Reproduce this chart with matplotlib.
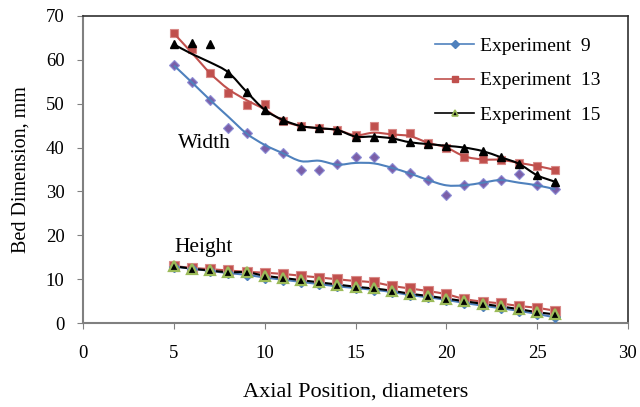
import matplotlib
matplotlib.use("Agg")
import matplotlib.pyplot as plt
from matplotlib.path import Path
from matplotlib.patches import PathPatch
from matplotlib.lines import Line2D

plt.rcParams['font.family'] = ['Liberation Serif', 'DejaVu Serif']

pos = [5, 6, 7, 8, 9, 10, 11, 12, 13, 14, 15, 16, 17, 18, 19, 20, 21, 22, 23, 24, 25, 26]

# width, measured points
w9_pts = [58.7, 55.0, 50.8, 44.5, 43.3, 39.9, 38.8, 34.9, 35.0, 36.2, 37.9, 37.9,
          35.4, 34.1, 32.6, 29.2, 31.4, 32.0, 32.6, 33.9, 31.4, 30.5]
w13_pts = [66.0, 62.5, 56.9, 52.4, 49.6, 49.9, 46.1, 44.9, 44.4, 44.0, 42.9, 44.8,
           43.4, 43.4, 41.1, 40.0, 37.9, 37.5, 37.2, 36.5, 35.8, 34.9]
w15_pts = [63.5, 63.8, 63.5, 57.1, 52.7, 48.6, 46.3, 44.9, 44.4, 44.0, 42.5, 42.5,
           42.1, 41.2, 40.8, 40.4, 40.0, 39.2, 37.8, 36.3, 33.7, 32.2]

# width, smoothed trend
w9_fit = [58.7, 54.8, 50.8, 47.0, 43.2, 40.6, 38.7, 36.9, 37.0, 36.1, 36.5, 36.4,
          35.4, 34.1, 32.6, 31.4, 31.4, 32.0, 32.6, 32.0, 31.4, 30.5]
w13_fit = [66.0, 61.5, 56.9, 53.3, 50.8, 48.7, 46.1, 44.9, 44.4, 44.0, 42.8, 43.4,
           43.0, 42.6, 41.1, 40.0, 38.0, 37.3, 37.2, 36.5, 35.8, 34.9]
w15_fit = [63.5, 61.3, 59.4, 57.1, 52.7, 48.6, 46.3, 44.9, 44.4, 44.0, 42.5, 42.5,
           42.1, 41.2, 40.8, 40.4, 40.0, 39.2, 37.8, 36.3, 33.7, 32.2]

# height
h9 = [12.9, 12.4, 11.9, 11.4, 11.0, 10.4, 9.9, 9.4, 8.9, 8.4, 8.0, 7.6,
      7.1, 6.4, 5.9, 5.3, 4.6, 4.0, 3.4, 2.8, 2.1, 1.3]
h13 = [13.0, 12.6, 12.3, 12.0, 11.7, 11.5, 11.2, 10.8, 10.4, 10.0, 9.6, 9.3,
       8.5, 7.9, 7.3, 6.6, 5.5, 4.9, 4.5, 3.9, 3.5, 2.8]
h15 = [13.0, 12.4, 12.0, 11.6, 11.6, 10.8, 10.3, 9.8, 9.3, 8.8, 8.3, 7.9,
       7.4, 6.7, 6.2, 5.6, 5.0, 4.4, 3.8, 3.2, 2.5, 2.0]

BLUE = '#4F81BD'
RED = '#C0504D'
GREEN = '#9BBB59'
PURPLE = '#7A5FA8'


def smooth(ax, xs, ys, color, lw=1.5, z=3):
    # bezier through the points, like excel's smoothed line
    verts = [(xs[0], ys[0])]
    codes = [Path.MOVETO]
    n = len(xs)
    for i in range(n - 1):
        x0, y0 = (xs[i - 1], ys[i - 1]) if i > 0 else (xs[i], ys[i])
        x1, y1 = xs[i], ys[i]
        x2, y2 = xs[i + 1], ys[i + 1]
        x3, y3 = (xs[i + 2], ys[i + 2]) if i + 2 < n else (x2, y2)
        verts += [(x1 + (x2 - x0) / 6, y1 + (y2 - y0) / 6),
                  (x2 - (x3 - x1) / 6, y2 - (y3 - y1) / 6),
                  (x2, y2)]
        codes += [Path.CURVE4] * 3
    ax.add_patch(PathPatch(Path(verts, codes), fill=False, edgecolor=color,
                           lw=lw, zorder=z))


fig, ax = plt.subplots(figsize=(6.4, 4.07), dpi=100)
fig.subplots_adjust(left=0.13, right=0.981, top=0.961, bottom=0.206)

# width points
ax.plot(pos, w9_pts, 'D', ms=5, mfc=PURPLE, mec='#8E8ED6', mew=0.8, ls='none', zorder=2)
ax.plot(pos, w13_pts, 's', ms=5.5, mfc=RED, mec='#D98A88', mew=0.8, ls='none', zorder=2)
ax.plot(pos, w15_pts, '^', ms=5.5, color='black', ls='none', zorder=4)

smooth(ax, pos, w9_fit, BLUE)
smooth(ax, pos, w13_fit, RED)
smooth(ax, pos, w15_fit, 'black')

# height
smooth(ax, pos, h13, RED)
smooth(ax, pos, h9, BLUE)
smooth(ax, pos, h15, 'black')
ax.plot(pos, h13, 's', ms=6.5, mfc=RED, mec='#D98A88', mew=0.8, ls='none', zorder=3)
ax.plot(pos, h9, 'D', ms=5, mfc=BLUE, mec=BLUE, ls='none', zorder=3)
ax.plot(pos, h15, '^', ms=6.5, mfc='black', mec=GREEN, mew=1.6, ls='none', zorder=4)

ax.text(6.66, 41, 'Width', fontsize=15.5, ha='center', va='center')
ax.text(6.66, 17.3, 'Height', fontsize=15.5, ha='center', va='center')

handles = [
    Line2D([], [], color=BLUE, lw=1.2, marker='D', ms=4, mfc=BLUE, mec=BLUE),
    Line2D([], [], color=RED, lw=1.2, marker='s', ms=5, mfc=RED, mec=RED),
    Line2D([], [], color='black', lw=1.2, marker='^', ms=5, mfc='black', mec=GREEN, mew=1.2),
]
ax.legend(handles, ['Experiment  9', 'Experiment  13', 'Experiment  15'],
          loc='upper left', bbox_to_anchor=(0.625, 0.967), frameon=False,
          fontsize=14, handlelength=2.0, handletextpad=0.3,
          labelspacing=0.85, borderaxespad=0.2)

ax.set_xlim(0, 30)
ax.set_ylim(0, 70)
ax.set_xticks(range(0, 31, 5))
ax.set_yticks(range(0, 71, 10))
ax.tick_params(labelsize=13.5, direction='out', length=4, color='#808080')
ax.tick_params(axis='x', pad=11.5)
ax.tick_params(axis='y', pad=9.5)
ax.set_xlabel('Axial Position, diameters', fontsize=16, labelpad=15)
ax.set_ylabel('Bed Dimension, mm', fontsize=14.5, labelpad=11)

for s in ['left', 'bottom']:
    ax.spines[s].set_color('#808080')
    ax.spines[s].set_linewidth(1.5)
for s in ['top', 'right']:
    ax.spines[s].set_color('#303030')
    ax.spines[s].set_linewidth(1.2)

fig.savefig('out.png', dpi=100)
